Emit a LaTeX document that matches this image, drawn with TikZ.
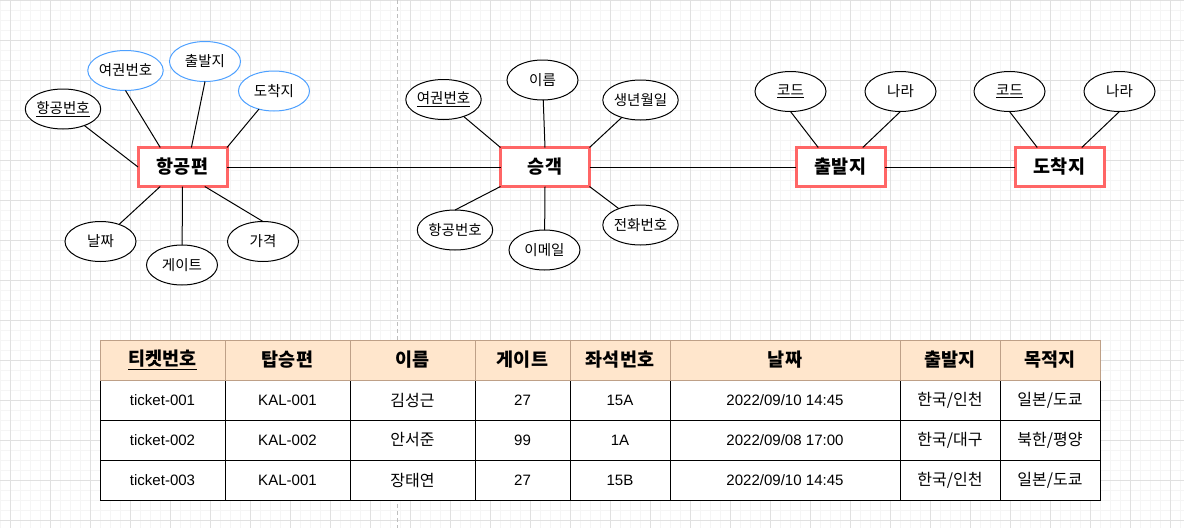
\documentclass[tikz,border=0pt]{standalone}
\usepackage{fontspec}
\setmainfont{Noto Sans CJK KR}
\newfontfamily\lat{Liberation Sans}[Scale=0.94]
\usetikzlibrary{shapes.geometric,calc}
\definecolor{entred}{RGB}{255,102,102}
\definecolor{attblue}{RGB}{77,160,255}
\definecolor{hdrfill}{RGB}{255,230,204}
\definecolor{hdrline}{RGB}{190,160,135}
\definecolor{gridmaj}{RGB}{224,224,224}
\definecolor{gridmin}{RGB}{245,245,245}
\definecolor{pagedash}{RGB}{190,190,190}
\begin{document}
\begin{tikzpicture}[x=1pt,y=-1pt,
  attr/.style={ellipse,draw=black,fill=white,line width=1pt,minimum width=71pt,minimum height=40pt,inner sep=0pt,outer sep=0pt,font=\fontsize{14.5}{17}\selectfont},
  keyattr/.style={attr,draw=attblue},
  entity/.style={rectangle,draw=entred,fill=white,line width=3pt,minimum width=89pt,minimum height=39pt,inner sep=0pt,outer sep=0pt,font=\fontsize{18.5}{22}\selectfont\bfseries},
  link/.style={draw=black,line width=1pt},
  hdr/.style={rectangle,draw=hdrline,fill=hdrfill,line width=1pt,inner sep=0pt,outer sep=0pt,minimum height=40pt,font=\fontsize{18.5}{22}\selectfont\bfseries},
  cell/.style={rectangle,draw=black,fill=white,line width=0.9pt,inner sep=0pt,outer sep=0pt,minimum height=40pt,font=\fontsize{16}{19}\selectfont},
  minorgrid/.style={draw=gridmin,line width=0.8pt},
  majorgrid/.style={draw=gridmaj,line width=1pt},
  pageline/.style={draw=pagedash,line width=1pt,dash pattern=on 4pt off 3pt}
]
\useasboundingbox (0,0) rectangle (1184,528);
\fill[white] (0,0) rectangle (1184,528);
% grid
\foreach \x in {0,10,...,1180} \draw[minorgrid] (\x,0) -- (\x,528);
\foreach \y in {0,10,...,520} \draw[minorgrid] (0,\y) -- (1184,\y);
\foreach \x in {10,50,...,1170} \draw[majorgrid] (\x,0) -- (\x,528);
\foreach \y in {0,40,...,520} \draw[majorgrid] (0,\y) -- (1184,\y);
\draw[pageline] (397,0) -- (397,528);

% entities
\node[entity] (hp) at (182.5,167) {항공편};
\node[entity] (ps) at (545,167) {승객};
\node[entity] (dep) at (840.5,167) {출발지};
\node[entity] (arr) at (1059.5,167) {도착지};

% attributes of 항공편
\node[attr] (hpno) at (63,109) {\underline{항공번호}};
\node[keyattr] (hppass) at (125.5,70.5) {여권번호};
\node[keyattr] (hpdep) at (205,61.5) {출발지};
\node[keyattr] (hparr) at (274,91) {도착지};
\node[attr] (hpdate) at (100.5,241.5) {날짜};
\node[attr] (hpgate) at (182,265) {게이트};
\node[attr] (hpprice) at (263,241.5) {가격};

% attributes of 승객
\node[attr] (psno) at (443.5,99.5) {\underline{여권번호}};
\node[attr] (psname) at (542.5,80) {이름};
\node[attr] (psbirth) at (640.5,100) {생년월일};
\node[attr] (psflight) at (455,230) {항공번호};
\node[attr] (psmail) at (544.5,250) {이메일};
\node[attr] (pstel) at (640.5,225) {전화번호};

% attributes of 출발지 / 도착지
\node[attr] (depcode) at (790.5,91.5) {\underline{코드}};
\node[attr] (depcountry) at (900.5,91.5) {나라};
\node[attr] (arrcode) at (1009.5,91.5) {\underline{코드}};
\node[attr] (arrcountry) at (1119.5,91.5) {나라};

% connectors
\draw[link] (hpno) -- (hp.west);
\draw[link] (hppass.south) -- ($(hp.north west)!0.25!(hp.north east)$);
\draw[link] (hpdep.south) -- ($(hp.north west)!0.6!(hp.north east)$);
\draw[link] (hparr) -- (hp.north east);
\draw[link] (hpdate) -- ($(hp.south west)!0.25!(hp.south east)$);
\draw[link] (hpgate) -- (hp.south);
\draw[link] (hpprice.north) -- ($(hp.south west)!0.75!(hp.south east)$);

\draw[link] (psno) -- (ps.north west);
\draw[link] (psname) -- (ps.north);
\draw[link] (psbirth) -- (ps.north east);
\draw[link] (psflight.north) -- (ps.south west);
\draw[link] (psmail) -- (ps.south);
\draw[link] (pstel) -- (ps.south east);

\draw[link] (depcode.south) -- ($(dep.north west)!0.25!(dep.north east)$);
\draw[link] (depcountry.south) -- ($(dep.north west)!0.75!(dep.north east)$);
\draw[link] (arrcode.south) -- ($(arr.north west)!0.25!(arr.north east)$);
\draw[link] (arrcountry.south) -- ($(arr.north west)!0.75!(arr.north east)$);

\draw[link] (hp.east) -- (ps.west);
\draw[link] (ps.east) -- (dep.west);
\draw[link] (dep.east) -- (arr.west);

% table
\foreach \l/\r/\a/\b/\c [count=\i] in {
  100/225/{\lat ticket-001}/{\lat ticket-002}/{\lat ticket-003},
  225/350/{\lat KAL-001}/{\lat KAL-002}/{\lat KAL-001},
  350/475/{김성근}/{안서준}/{장태연},
  475/570/{\lat 27}/{\lat 99}/{\lat 27},
  570/670/{\lat 15A}/{\lat 1A}/{\lat 15B},
  670/900/{\lat 2022/09/10 14:45}/{\lat 2022/09/08 17:00}/{\lat 2022/09/10 14:45},
  900/1000/{한국/인천}/{한국/대구}/{한국/인천},
  1000/1100/{일본/도쿄}/{북한/평양}/{일본/도쿄}}
{
  \node[cell,minimum width={(\r-\l)*1pt}] (ra\i) at ({(\l+\r)/2},400) {\a};
  \node[cell,minimum width={(\r-\l)*1pt}] (rb\i) at ({(\l+\r)/2},440) {\b};
  \node[cell,minimum width={(\r-\l)*1pt}] (rc\i) at ({(\l+\r)/2},480) {\c};
}
\foreach \l/\r/\h [count=\i] in {
  100/225/{\underline{티켓번호}},
  225/350/{탑승편},
  350/475/{이름},
  475/570/{게이트},
  570/670/{좌석번호},
  670/900/{날짜},
  900/1000/{출발지},
  1000/1100/{목적지}}
{
  \node[hdr,minimum width={(\r-\l)*1pt}] (hd\i) at ({(\l+\r)/2},360) {\h};
}
\end{tikzpicture}
\end{document}
